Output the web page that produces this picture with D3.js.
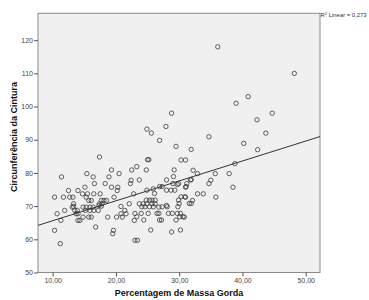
<!DOCTYPE html>
<html>
<head>
<meta charset="utf-8">
<script src="https://cdn.jsdelivr.net/npm/d3@7"></script>
<style>
  body { margin: 0; background: #fff; }
  svg { display: block; font-family: "Liberation Sans", Arial, sans-serif; }
</style>
</head>
<body>
<script>
var width = 369, height = 300;

// axis ranges and ticks
var xDomain = [7.68, 52.26];
var yDomain = [50, 128.1];
var xTicks = [10, 20, 30, 40, 50];
var yTicks = [50, 60, 70, 80, 90, 100, 110, 120];

// fit line: y = a + b*x
var fitIntercept = 59.6, fitSlope = 0.6;
var r2Text = "0,273";

// % massa gorda vs circunferência da cintura
var pctGorda = [
  36.1, 48.2, 40.9, 39.0, 44.7, 28.8, 42.3, 27.9, 24.9, 25.6, 26.9, 29.5, 34.7, 43.7, 40.2, 42.4, 31.9,
  38.8, 35.7, 37.9, 35.0, 38.5, 35.8, 32.2, 32.9, 31.9, 31.2, 34.7, 31.0, 32.9, 33.8, 31.6, 32.1, 31.0, 30.8,
  25.0, 25.2, 30.3, 31.0, 23.3, 24.8, 29.2, 23.7, 29.1, 28.0, 26.9, 27.3, 29.0, 29.7, 29.9, 31.1, 31.8,
  28.0, 28.7, 29.3, 24.9, 26.1, 30.3, 30.9, 24.8, 25.3, 25.7, 26.2, 29.9, 23.7, 24.3, 24.9, 25.7, 26.2,
  28.0, 30.0, 31.9, 24.1, 24.6, 25.3, 25.9, 27.3, 28.1, 29.8, 23.0, 24.0, 25.1, 26.5, 26.8, 28.3, 28.9,
  29.7, 30.2, 30.1, 30.6, 23.3, 24.4, 26.9, 27.2, 29.5, 25.5, 28.8, 30.2, 23.0, 23.4, 25.9, 26.8,
  17.4, 11.4, 15.4, 16.4, 19.3, 18.9, 20.5, 22.5, 22.3, 22.4, 16.6, 18.3, 19.3, 20.3, 20.2, 15.1, 14.0,
  12.5, 14.7, 15.5, 16.5, 17.5, 19.7, 22.8, 10.3, 11.7, 12.7, 13.2, 15.3, 15.7, 16.1, 17.7, 18.1, 18.5,
  13.3, 17.4, 17.8, 13.1, 13.3, 14.8, 15.3, 15.9, 16.4, 17.3, 17.7, 20.8, 22.1, 13.5, 13.9, 11.9, 15.2,
  15.9, 16.5, 17.2, 21.4, 10.7, 13.7, 14.0, 20.8, 21.6, 14.8, 15.7, 16.1, 18.7, 20.1, 21.0, 14.0, 14.3,
  11.3, 22.9, 10.3, 16.8, 19.6, 19.5, 11.2
];
var cintura = [
  118.0, 110.0, 103.0, 101.0, 98.0, 98.0, 96.0, 94.0, 93.2, 92.0, 89.8, 88.0, 90.9, 92.0, 88.9, 87.0, 87.1,
  82.8, 79.8, 79.8, 77.8, 75.7, 72.7, 80.8, 79.8, 78.0, 76.8, 76.8, 75.7, 73.7, 73.7, 70.8, 71.7, 72.7, 66.7,
  84.0, 84.0, 83.9, 83.9, 81.9, 80.9, 80.9, 77.9, 78.9, 77.9, 75.9, 75.9, 76.8, 76.5, 76.8, 75.9, 77.9,
  74.8, 74.8, 74.8, 74.8, 73.8, 72.8, 72.8, 71.8, 71.8, 71.8, 71.8, 71.8, 70.7, 70.7, 70.7, 70.7, 70.7,
  70.2, 70.8, 70.8, 69.8, 69.8, 69.8, 69.8, 69.8, 69.8, 69.8, 67.8, 67.8, 67.8, 67.8, 67.8, 67.8, 67.8,
  67.8, 67.8, 66.8, 66.8, 66.8, 65.8, 65.8, 65.8, 65.8, 62.8, 62.2, 62.8, 59.7, 59.7, 75.2, 69.7,
  84.8, 78.8, 79.8, 78.8, 80.9, 78.8, 79.8, 80.9, 76.8, 77.8, 76.8, 76.8, 75.7, 75.7, 74.7, 75.7, 74.7,
  74.7, 73.7, 73.7, 73.7, 73.7, 72.7, 73.7, 72.7, 72.7, 72.7, 72.7, 72.7, 71.7, 71.7, 71.7, 71.7, 71.7,
  70.7, 70.7, 70.7, 69.7, 69.9, 69.7, 69.7, 69.7, 69.7, 70.2, 70.0, 69.9, 70.7, 68.7, 68.7, 68.7, 68.7,
  68.7, 68.7, 68.7, 68.7, 67.7, 67.7, 67.7, 67.7, 67.7, 66.7, 66.7, 66.7, 66.7, 66.7, 66.7, 65.7, 65.7,
  65.7, 65.7, 62.7, 63.7, 62.7, 61.7, 58.7
];

var margin = {left: 38, right: 49, top: 13.3, bottom: 27.5};
var plotW = width - margin.left - margin.right,
    plotH = height - margin.top - margin.bottom;

var svg = d3.select("body").append("svg")
    .attr("width", width)
    .attr("height", height);

var x = d3.scaleLinear().domain(xDomain).range([margin.left, margin.left + plotW]);
var y = d3.scaleLinear().domain(yDomain).range([margin.top + plotH, margin.top]);

var fmtComma = function(d) { return d3.format(".2f")(d).replace(".", ","); };

// plot background
svg.append("rect")
    .attr("x", margin.left)
    .attr("y", margin.top)
    .attr("width", plotW)
    .attr("height", plotH)
    .attr("fill", "#f0f0f0")
    .attr("stroke", "#8a8a8a")
    .attr("stroke-width", 1);

svg.append("clipPath").attr("id", "plotclip")
  .append("rect")
    .attr("x", margin.left).attr("y", margin.top)
    .attr("width", plotW).attr("height", plotH);

// axes
var xAxis = svg.append("g")
    .attr("transform", "translate(0," + (margin.top + plotH) + ")")
    .call(d3.axisBottom(x).tickValues(xTicks).tickFormat(fmtComma).tickSize(4).tickPadding(2));
var yAxis = svg.append("g")
    .attr("transform", "translate(" + margin.left + ",0)")
    .call(d3.axisLeft(y).tickValues(yTicks).tickFormat(d3.format("d")).tickSize(4).tickPadding(1));

[xAxis, yAxis].forEach(function(g) {
  g.select(".domain").remove();
  g.selectAll(".tick line").attr("stroke", "#555");
  g.selectAll(".tick text")
      .attr("fill", "#444")
      .style("font-size", "7px")
      .style("font-family", "'Liberation Sans', Arial, sans-serif");
});

// points
var pts = pctGorda.map(function(v, i) { return [v, cintura[i]]; });
svg.append("g")
  .selectAll("circle")
  .data(pts)
  .enter()
  .append("circle")
    .attr("cx", function(d) { return x(d[0]); })
    .attr("cy", function(d) { return y(d[1]); })
    .attr("r", 2.2)
    .attr("fill", "none")
    .attr("stroke", "#3a3a3a")
    .attr("stroke-width", 0.8);

// fit line
svg.append("line")
    .attr("clip-path", "url(#plotclip)")
    .attr("x1", x(xDomain[0]))
    .attr("y1", y(fitIntercept + fitSlope * xDomain[0]))
    .attr("x2", x(xDomain[1]))
    .attr("y2", y(fitIntercept + fitSlope * xDomain[1]))
    .attr("stroke", "#333")
    .attr("stroke-width", 1);

// R2 label
var r2 = svg.append("text")
    .attr("x", margin.left + plotW + 0.5)
    .attr("y", 17)
    .attr("fill", "#333")
    .style("font-size", "5.9px");
r2.append("tspan").text("R");
r2.append("tspan").attr("dy", -2.3).style("font-size", "4.2px").text("2");
r2.append("tspan").attr("dy", 2.3).text(" Linear = " + r2Text);

// axis titles
svg.append("text")
    .attr("x", 179)
    .attr("y", 296)
    .attr("text-anchor", "middle")
    .attr("fill", "#111")
    .style("font-size", "9px")
    .style("font-weight", "bold")
    .text("Percentagem de Massa Gorda");

svg.append("text")
    .attr("transform", "translate(17,137) rotate(-90)")
    .attr("text-anchor", "middle")
    .attr("fill", "#111")
    .style("font-size", "9px")
    .style("font-weight", "bold")
    .text("Circunferência da Cintura");
</script>
</body>
</html>
